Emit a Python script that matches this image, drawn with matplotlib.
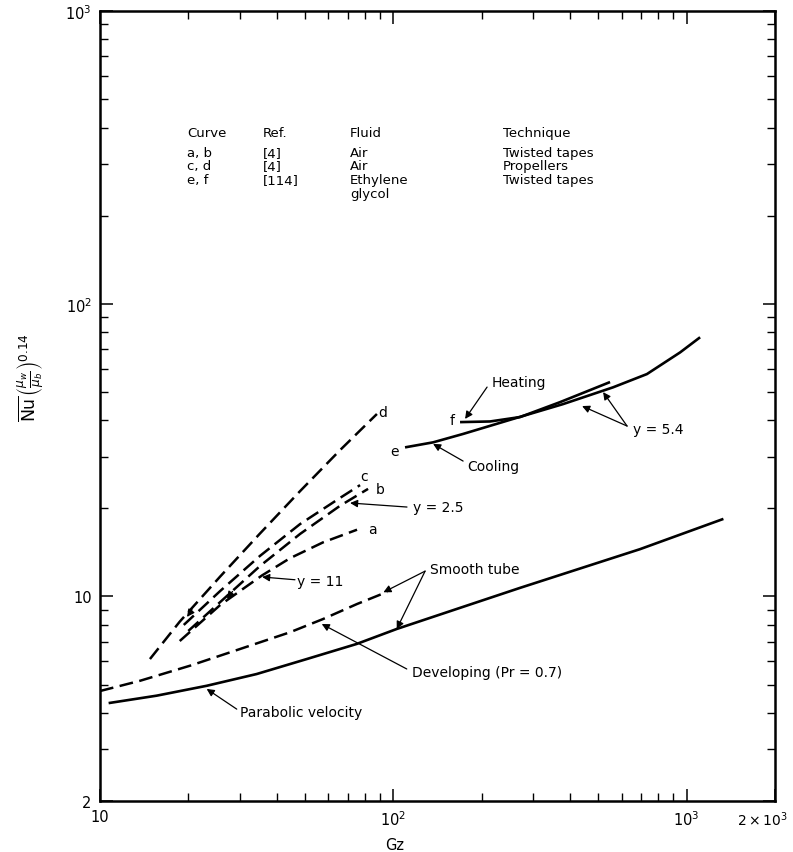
import matplotlib
matplotlib.use("Agg")
import matplotlib.pyplot as plt

plt.rcParams["font.family"] = ["DejaVu Sans"]
plt.rcParams["mathtext.fontset"] = "dejavusans"

# --- data (Gz, Nu*(mu_w/mu_b)^0.14) ---
gz_parabolic = [10.7, 15.6, 23.1, 34.2, 50.7, 75.0, 102.7, 164.5, 270, 693, 1334]
nu_parabolic = [4.32, 4.58, 4.95, 5.43, 6.11, 6.88, 7.74, 9.06, 10.69, 14.5, 18.4]

gz_developing = [10.0, 13.7, 20.3, 30.0, 44.4, 57.6, 75.2, 95.2]
nu_developing = [4.75, 5.15, 5.80, 6.61, 7.54, 8.37, 9.42, 10.36]

gz_a = [18.7, 25.7, 35.7, 44.4, 57.6, 75.2]
nu_a = [7.04, 9.35, 11.8, 13.5, 15.3, 16.9]
gz_b = [20.0, 25.7, 35.1, 48.1, 65.8, 82.0]
nu_b = [7.62, 9.57, 12.70, 16.35, 20.4, 23.3]
gz_c = [19.3, 25.7, 35.1, 48.1, 65.8, 77.0]
nu_c = [7.99, 10.44, 13.75, 17.67, 21.7, 24.0]
gz_d = [14.8, 18.7, 25.7, 35.1, 48.1, 65.8, 87.9]
nu_d = [6.11, 8.2, 11.7, 16.4, 22.9, 31.6, 42.0]

gz_e = [109.6, 136.6, 172.9, 255.9, 379, 561, 732, 950, 1111]
nu_e = [32.3, 33.6, 35.9, 40.4, 45.4, 51.8, 57.5, 68.2, 76.8]
gz_f = [168.8, 213.6, 270.4, 370, 548]
nu_f = [39.4, 39.6, 41.0, 46.1, 54.0]

x_ticks = [10, 100, 1000, 2000]
x_ticklabels = ["10", "$10^2$", "$10^3$", ""]
y_ticks = [2, 10, 100, 1000]
y_ticklabels = ["2", "10", "$10^2$", "$10^3$"]

table_rows = [
    ("Curve", "Ref.", "Fluid", "Technique"),
    ("a, b", "[4]", "Air", "Twisted tapes"),
    ("c, d", "[4]", "Air", "Propellers"),
    ("e, f", "[114]", "Ethylene", "Twisted tapes"),
    ("", "", "glycol", ""),
]

fig = plt.figure(figsize=(7.93, 8.53), dpi=100)
ax = fig.add_axes([0.1261, 0.0598, 0.8512, 0.9261])
ax.set_xscale("log")
ax.set_yscale("log")
ax.set_xlim(10, 2000)
ax.set_ylim(2, 1000)

solid = dict(color="black", lw=1.9, solid_capstyle="butt")
dashed = dict(color="black", lw=1.8, linestyle=(0, (5.5, 2.6)), dash_capstyle="butt")

ax.plot(gz_parabolic, nu_parabolic, **solid)
ax.plot(gz_developing, nu_developing, **dashed)
for gz, nu in [(gz_a, nu_a), (gz_b, nu_b), (gz_c, nu_c), (gz_d, nu_d)]:
    ax.plot(gz, nu, **dashed)
ax.plot(gz_e, nu_e, **solid)
ax.plot(gz_f, nu_f, **solid)

# axes, ticks
for sp in ax.spines.values():
    sp.set_linewidth(1.8)
ax.set_xticks(x_ticks)
ax.set_xticklabels(x_ticklabels)
ax.set_yticks(y_ticks)
ax.set_yticklabels(y_ticklabels)
ax.xaxis.set_minor_locator(matplotlib.ticker.LogLocator(base=10, subs=range(2, 10)))
ax.yaxis.set_minor_locator(matplotlib.ticker.LogLocator(base=10, subs=range(2, 10)))
ax.xaxis.set_minor_formatter(matplotlib.ticker.NullFormatter())
ax.yaxis.set_minor_formatter(matplotlib.ticker.NullFormatter())
ax.tick_params(which="both", direction="in", top=True, right=True, labelsize=10.5)
ax.tick_params(which="major", length=9, width=1.1, pad=6)
ax.tick_params(which="minor", length=6, width=1.0)

# last x label sits at the right spine, pulled in so it stays on the page
ax.annotate(r"$2\times10^3$", xy=(2000, 0), xycoords=("data", "axes fraction"),
            xytext=(-9, -6), textcoords="offset points",
            ha="center", va="top", fontsize=10, annotation_clip=False)

ax.set_xlabel("Gz", fontsize=10.5)
ax.xaxis.set_label_coords(0.437, -0.046)
ax.set_ylabel(r"$\overline{\mathrm{Nu}}\,\left(\frac{\mu_w}{\mu_b}\right)^{0.14}$", fontsize=12.5)
ax.yaxis.set_label_coords(-0.08, 0.537)

# table of curves
col_x = [0.129, 0.2415, 0.3704, 0.597]
row_y = [0.8456, 0.8211, 0.8042, 0.7865, 0.7696]
for row, y in zip(table_rows, row_y):
    for txt, x in zip(row, col_x):
        ax.text(x, y, txt, transform=ax.transAxes, fontsize=9.5, va="center", ha="left")

# curve letters
fs = 10
ax.text(92.2, 42.7, "d", fontsize=fs, ha="center", va="center")
ax.text(79.4, 25.8, "c", fontsize=fs, ha="center", va="center")
ax.text(90.1, 23.3, "b", fontsize=fs, ha="center", va="center")
ax.text(84.6, 17.0, "a", fontsize=fs, ha="center", va="center")
ax.text(100.6, 31.4, "e", fontsize=fs, ha="center", va="center")
ax.text(158.5, 40.1, "f", fontsize=fs, ha="center", va="center")

arrow = dict(arrowstyle="-|>", color="black", lw=0.9, mutation_scale=11,
             shrinkA=0, shrinkB=0)


def note(text, xy_text, tips, ha="left"):
    ax.text(*xy_text, text, fontsize=fs, ha=ha, va="center")
    for tail, tip in tips:
        ax.annotate("", xy=tip, xytext=tail, arrowprops=arrow)


note("y = 11", (46.9, 11.29), [((46.2, 11.4), (35.7, 11.65))])
note("y = 2.5", (116.7, 20.2), [((111.3, 20.2), (71.2, 20.85))])
note("Heating", (217.0, 54.0), [((208.7, 51.9), (175.6, 40.4))])
note("Cooling", (178.4, 27.9), [((172.9, 29.0), (136.6, 33.2))])
note("y = 5.4", (656.6, 37.3), [((626.3, 38.2), (440.0, 44.7)),
                                ((626.3, 38.2), (518.8, 49.9))])
note("Smooth tube", (133.4, 12.4), [((128.3, 12.2), (92.5, 10.33)),
                                    ((128.3, 12.2), (102.7, 7.74))])
note("Developing (Pr = 0.7)", (115.5, 5.52), [((111.1, 5.65), (57.0, 8.05))])
note("Parabolic velocity", (30.0, 4.03), [((29.25, 4.12), (23.1, 4.83))])

# small direction heads drawn on the steep curves
for tail, tip in [((20.6, 9.0), (19.8, 8.51)), ((28.3, 10.4), (27.1, 9.80))]:
    ax.annotate("", xy=tip, xytext=tail, arrowprops=arrow)

fig.savefig("out.png", dpi=100)
